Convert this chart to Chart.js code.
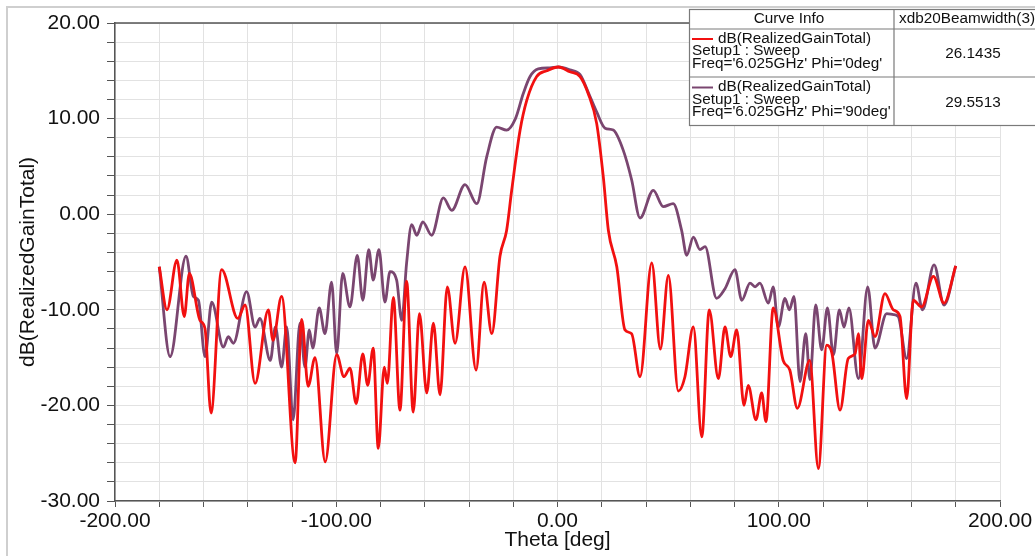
<!DOCTYPE html>
<html>
<head>
<meta charset="utf-8">
<script src="https://cdn.jsdelivr.net/npm/chart.js@4.4.1/dist/chart.umd.min.js"></script>
<style>
  html, body { margin: 0; padding: 0; background: #fff; }
  #wrap { position: relative; width: 1035px; height: 556px; }
</style>
</head>
<body>
<div id="wrap"><canvas id="c"></canvas></div>
<script>
// ---- data ----
const THETA_PHI0 = [-180,-176.5,-172,-168.7,-166.4,-161.6,-159.3,-156.6,-151.8,-144.5,-141.2,-136.7,-130.7,-128.6,-124.7,-118.6,-115.6,-112.7,-109.6,-105,-99.8,-96.5,-93.8,-91,-88,-85.8,-83.3,-81,-78.3,-76.9,-74.2,-71.2,-68.2,-65.2,-62.4,-59.1,-56.1,-53.1,-49.8,-46.3,-41.8,-36.8,-33.2,-29.7,-26,-23,-20.7,-16.9,-13.9,-9.4,-4.9,0.4,5.6,10.2,13.9,17.7,20.7,23,26.8,30.5,33.5,37.3,42.6,46.5,50.1,54.6,57.6,61.4,65.2,68.6,72.7,75.7,78.3,81,84.3,86.2,89.7,92.3,94.2,97.5,102,105,108.4,114,117.9,121.7,124,127.7,131.4,134.5,136,137.5,140.5,143.5,148,151.8,154.8,157.8,160.8,164.6,169.9,174.7,180];
const GAIN_PHI0 = [-5.5,-10.0,-4.8,-10.7,-6.2,-11.1,-12.0,-20.8,-5.8,-10.9,-9.5,-17.7,-10.0,-13.2,-8.6,-26.0,-11.0,-18.0,-15.0,-25.9,-14.7,-17.0,-16.1,-19.8,-14.6,-17.9,-14.0,-24.5,-16.0,-17.7,-8.7,-20.5,-7.0,-20.7,-10.4,-18.7,-11.4,-18.9,-7.6,-13.5,-5.5,-16.3,-7.1,-12.5,-4.4,-1.7,2.5,8.8,11.9,14.4,15.0,15.4,14.9,14.4,12.6,9.5,3.9,-1.7,-5.5,-12.1,-12.5,-17.0,-5.1,-14.1,-6.4,-18.5,-17.0,-11.8,-23.3,-10.0,-17.2,-11.8,-14.9,-12.1,-20.0,-17.9,-21.5,-18.7,-21.7,-9.8,-15.3,-16.3,-20.3,-15.3,-26.6,-13.7,-14.5,-20.5,-15.1,-14.6,-12.5,-17.2,-11.1,-12.8,-8.3,-10.0,-10.7,-19.3,-9.0,-9.7,-6.5,-9.3,-5.4];

const THETA_PHI90 = [-180,-175.1,-167.9,-164.6,-162.3,-159.3,-156.3,-151,-148.8,-146.5,-140.5,-136.7,-134.5,-129.8,-127.5,-124.7,-122.4,-119.5,-116.4,-114.1,-112.2,-110.6,-107.7,-105.1,-102.1,-99.8,-97.1,-93.8,-90.5,-88,-85.3,-83.3,-80.7,-78,-75.7,-72.7,-70.4,-68.2,-65.9,-63.6,-60.9,-56.9,-51.6,-47.8,-41.8,-36.5,-32,-27.5,-23,-19,-15.5,-12.4,-8.7,-3.4,0.4,5.6,10.2,14.7,17.7,21.5,25.2,29.7,33.5,37.3,43.3,47.8,52.3,56.1,58.4,61.4,64.4,66.7,71.9,75.7,80.2,83.3,87,89.3,91.5,95.3,97.5,99.8,102.8,104.8,106.9,109.6,112.2,114.1,116.7,119.4,122,124.7,127.4,129.5,131.7,136,140.2,143.5,148.8,151.8,154,157.8,162,165,170.2,174.7,180];
const GAIN_PHI90 = [-5.5,-14.9,-4.4,-8.6,-9.0,-14.9,-9.2,-13.9,-12.8,-13.5,-8.1,-11.8,-10.9,-15.3,-11.8,-16.0,-11.8,-21.5,-11.4,-16.0,-12.1,-14.0,-9.8,-12.5,-7.1,-14.6,-6.2,-9.7,-4.3,-9.0,-3.7,-6.9,-3.7,-9.2,-6.0,-6.9,-11.1,-5.1,-1.1,-2.2,-0.8,-2.2,1.7,0.4,3.1,1.1,6.0,9.1,8.8,10.0,12.6,14.4,15.2,15.3,15.4,15.1,14.6,12.3,10.7,9.0,8.8,6.7,3.6,-0.4,2.5,0.8,1.1,-1.7,-4.3,-2.4,-3.7,-3.4,-8.8,-7.8,-5.8,-9.0,-7.2,-7.6,-7.2,-9.3,-7.6,-11.8,-8.8,-10.0,-8.6,-17.5,-12.5,-17.3,-9.5,-14.2,-9.8,-14.7,-10.0,-11.8,-9.8,-17.2,-7.6,-14.0,-10.4,-10.5,-10.7,-15.1,-7.2,-10.0,-5.3,-9.5,-5.4];

const SERIES_NAMES = ["dB(RealizedGainTotal)", "dB(RealizedGainTotal)"];
const SERIES_SETUP = ["Setup1 : Sweep", "Setup1 : Sweep"];
const SERIES_COND = ["Freq='6.025GHz' Phi='0deg'", "Freq='6.025GHz' Phi='90deg'"];
const BEAMWIDTHS = ["26.1435", "29.5513"];
const LEGEND_HEADERS = ["Curve Info", "xdb20Beamwidth(3)"];
const X_TICK_LABELS = [-200, -100, 0, 100, 200];
const Y_TICK_LABELS = [-30, -20, -10, 0, 10, 20];
const X_TITLE = "Theta [deg]";
const Y_TITLE = "dB(RealizedGainTotal)";
const COLORS = ["#f21010", "#7a4670"];

function pts(xs, ys) { return xs.map((x, i) => ({ x: x, y: ys[i] })); }

const FONT = 'Arial, "Liberation Sans", sans-serif';

const framePlugin = {
  id: 'frame',
  beforeDraw(chart) {
    const ctx = chart.ctx;
    ctx.save();
    ctx.strokeStyle = '#cfcfcf';
    ctx.lineWidth = 2;
    ctx.beginPath();
    ctx.moveTo(7, 560);
    ctx.lineTo(7, 7);
    ctx.lineTo(1040, 7);
    ctx.stroke();
    ctx.restore();
  },
  beforeDatasetsDraw(chart) {
    const a = chart.chartArea, ctx = chart.ctx;
    ctx.save();
    ctx.strokeStyle = '#555';
    ctx.lineWidth = 1.5;
    ctx.beginPath();
    ctx.moveTo(a.left, a.top);
    ctx.lineTo(a.right, a.top);
    ctx.stroke();
    ctx.restore();
  },
  afterDraw(chart) {
    const ctx = chart.ctx;
    ctx.save();
    const L = 689, T = 9, R = 1040, B = 125, COL = 894, HDR = 29, MID = 77;
    ctx.fillStyle = '#fff';
    ctx.fillRect(L, T, R - L, B - T);
    ctx.strokeStyle = '#7a7a7a';
    ctx.lineWidth = 1.2;
    ctx.strokeRect(L + 0.5, T + 0.5, R - L, B - T);
    ctx.beginPath();
    ctx.moveTo(L, HDR); ctx.lineTo(R, HDR);
    ctx.moveTo(L, MID); ctx.lineTo(R, MID);
    ctx.moveTo(COL, T); ctx.lineTo(COL, B);
    ctx.stroke();
    ctx.fillStyle = '#111';
    ctx.font = '15.3px ' + FONT;
    ctx.textBaseline = 'middle';
    ctx.textAlign = 'center';
    ctx.fillText(LEGEND_HEADERS[0], 789, 19);
    ctx.textAlign = 'left';
    ctx.fillText(LEGEND_HEADERS[1], 899, 19);
    const rowY = [38.5, 87];
    for (let i = 0; i < 2; i++) {
      const y = rowY[i];
      ctx.strokeStyle = COLORS[i];
      ctx.lineWidth = 2;
      ctx.beginPath();
      ctx.moveTo(692, y + 0.5); ctx.lineTo(713, y + 0.5);
      ctx.stroke();
      ctx.fillStyle = '#111';
      ctx.textAlign = 'left';
      ctx.fillText(SERIES_NAMES[i], 718, y);
      ctx.fillText(SERIES_SETUP[i], 692, y + 12.5);
      ctx.fillText(SERIES_COND[i], 692, y + 25);
      ctx.textAlign = 'center';
      ctx.fillText(BEAMWIDTHS[i], 973, y + 15.5);
    }
    ctx.restore();
  }
};

new Chart(document.getElementById('c'), {
  type: 'line',
  data: {
    datasets: [
      { label: SERIES_COND[0], data: pts(THETA_PHI0, GAIN_PHI0), borderColor: COLORS[0], borderWidth: 2.8, pointRadius: 0, cubicInterpolationMode: 'monotone', fill: false },
      { label: SERIES_COND[1], data: pts(THETA_PHI90, GAIN_PHI90), borderColor: COLORS[1], borderWidth: 2.8, pointRadius: 0, cubicInterpolationMode: 'monotone', fill: false }
    ]
  },
  options: {
    responsive: true,
    maintainAspectRatio: false,
    animation: false,
    events: [],
    layout: { padding: { left: 0, top: 23, right: 35, bottom: 0 } },
    plugins: { legend: { display: false }, tooltip: { enabled: false } },
    scales: {
      x: {
        type: 'linear', min: -200, max: 200,
        afterFit(s) { s.height = 55; },
        ticks: {
          stepSize: 20, autoSkip: false, maxRotation: 0, padding: 2,
          color: '#111', font: { family: FONT, size: 21 },
          callback: v => X_TICK_LABELS.includes(v) ? v.toFixed(2) : ''
        },
        grid: { color: '#e2e2e2', lineWidth: 1, tickLength: 6, tickColor: '#555', tickWidth: 1 },
        border: { display: true, color: '#555', width: 1.5 },
        title: { display: true, text: X_TITLE, color: '#111', font: { family: FONT, size: 21 }, padding: { top: 0, bottom: 3 } }
      },
      y: {
        type: 'linear', min: -30, max: 20,
        afterFit(s) { s.width = 115; },
        ticks: {
          stepSize: 2, autoSkip: false, padding: 7,
          color: '#111', font: { family: FONT, size: 21 },
          callback: v => Y_TICK_LABELS.includes(v) ? v.toFixed(2) : ''
        },
        grid: { color: '#e2e2e2', lineWidth: 1, tickLength: 8, tickColor: '#555', tickWidth: 1 },
        border: { display: true, color: '#555', width: 1.5 },
        title: { display: true, text: Y_TITLE, color: '#111', font: { family: FONT, size: 21 }, padding: { top: 16, bottom: 0 } }
      }
    }
  },
  plugins: [framePlugin]
});
</script>
</body>
</html>
